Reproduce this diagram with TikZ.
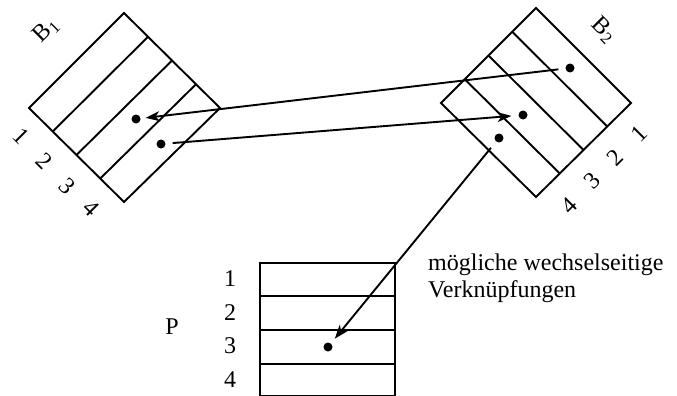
\documentclass[tikz,border=0pt]{standalone}
\usepackage{fontspec}
\setmainfont{Liberation Serif}
\usetikzlibrary{calc,arrows.meta}
\begin{document}
\begin{tikzpicture}[x=1pt,y=-1pt,
  box/.style={line width=1.9pt, line join=miter},
  sep/.style={line width=1.9pt},
  dot/.style={circle, fill=black, inner sep=0pt, minimum size=9pt},
  link/.style={line width=1.9pt, -{Stealth[length=14pt,width=10pt,inset=4pt]}},
  lbl/.style={font=\fontsize{24}{28}\selectfont, inner sep=0pt},
  txt/.style={font=\fontsize{24}{28}\selectfont, inner sep=0pt, anchor=base west}]
\useasboundingbox (0,0) rectangle (677,396);
% B1
\coordinate (T1) at (124,13);
\coordinate (L1) at (29,108);
\coordinate (D1) at (124,202);
\coordinate (R1) at (220,108);
\draw[box] (T1) -- (L1) -- (D1) -- (R1) -- cycle;
\foreach \t in {0.25,0.5,0.75}
  \draw[sep] ($(L1)!\t!(D1)$) -- ($(T1)!\t!(R1)$);
\node[lbl, rotate=45] (b1name) at (46,30) {B\textsubscript{1}};
\node[lbl, rotate=-45] (b1r1) at (21,136) {1};
\node[lbl, rotate=-45] (b1r2) at (44,161) {2};
\node[lbl, rotate=-45] (b1r3) at (67,186) {3};
\node[lbl, rotate=-45] (b1r4) at (91,208) {4};
\node[dot] (b1d1) at (136,119) {};
\node[dot] (b1d2) at (161,144) {};
% B2
\coordinate (T2) at (536,8);
\coordinate (L2) at (441,103);
\coordinate (D2) at (536,197);
\coordinate (R2) at (631,103);
\draw[box] (T2) -- (L2) -- (D2) -- (R2) -- cycle;
\foreach \t in {0.25,0.5,0.75}
  \draw[sep] ($(T2)!\t!(L2)$) -- ($(R2)!\t!(D2)$);
\node[lbl, rotate=-45] (b2name) at (604,30) {B\textsubscript{2}};
\node[lbl, rotate=45] (b2r1) at (639,134) {1};
\node[lbl, rotate=45] (b2r2) at (615,158) {2};
\node[lbl, rotate=45] (b2r3) at (592,181) {3};
\node[lbl, rotate=45] (b2r4) at (569,206) {4};
\node[dot] (b2d1) at (570,68) {};
\node[dot] (b2d2) at (523,115) {};
\node[dot] (b2d3) at (499,138) {};
% P
\draw[box] (260,263) rectangle (395,396);
\foreach \y in {296,330,364}
  \draw[sep] (260,\y) -- (395,\y);
\node[lbl] (pname) at (172,327) {P};
\node[lbl] (pr1) at (230,279) {1};
\node[lbl] (pr2) at (230,313) {2};
\node[lbl] (pr3) at (230,346) {3};
\node[lbl] (pr4) at (230,380) {4};
\node[dot] (pd) at (328,347) {};
% links
\draw[link, shorten <=7pt, shorten >=5pt] (b2d1) -- (b1d1);
\draw[link, shorten <=7pt, shorten >=7pt] (b1d2) -- (b2d2);
\draw[link, shorten <=8pt, shorten >=6pt] (b2d3) -- (pd);
% text
\node[txt] (t1) at (428,270) {mögliche wechselseitige};
\node[txt] (t2) at (428,297) {Verknüpfungen};
\end{tikzpicture}
\end{document}
